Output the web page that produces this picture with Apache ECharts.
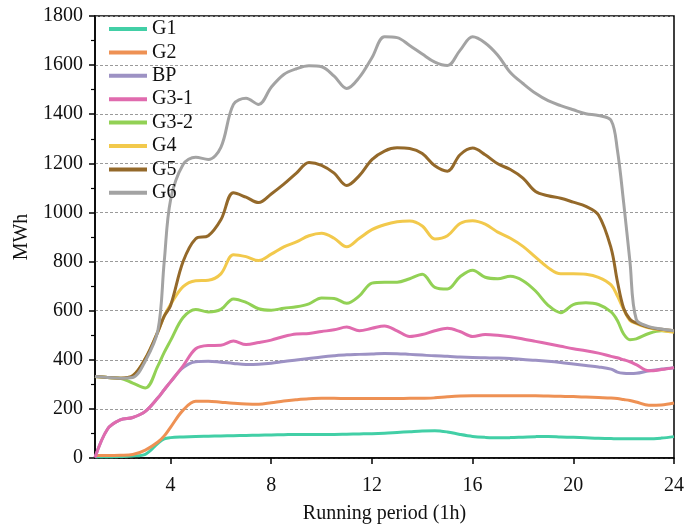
<!DOCTYPE html>
<html>
<head>
<meta charset="utf-8">
<script src="https://cdn.jsdelivr.net/npm/echarts@6/dist/echarts.min.js"></script>
<style>
  html, body { margin: 0; padding: 0; background: #fff; }
  #chart { width: 687px; height: 529px; }
</style>
</head>
<body>
<div id="chart"></div>
<script>
// Hourly sample points over the running period
const hours = [1, 1.5, 2, 2.5, 3, 3.5, 3.75, 4, 4.5, 5, 5.5, 6, 6.5, 7, 7.5, 8, 8.5, 9, 9.5, 10,
  10.5, 11, 11.5, 12, 12.5, 13, 13.5, 14, 14.5, 15, 15.5, 16, 16.5, 17, 17.5, 18, 18.5, 19, 19.5, 20,
  20.5, 21, 21.5, 21.75, 22, 22.25, 22.5, 23, 23.5, 24];

const seriesNames = ['G1', 'G2', 'BP', 'G3-1', 'G3-2', 'G4', 'G5', 'G6'];

const g1 = [5, 5, 6, 8, 15, 60, 78, 83, 86, 88, 89, 90, 91, 92, 93, 94, 95, 96, 96, 96,
  96, 97, 98, 99, 101, 104, 107, 110, 111, 106, 96, 88, 84, 82, 83, 85, 87, 88, 86, 84,
  82, 80, 79, 78, 78, 78, 78, 78, 81, 87];

const g2 = [10, 10, 11, 14, 32, 65, 90, 125, 195, 231, 231, 227, 223, 220, 219, 225, 232, 237, 241, 243,
  243, 242, 242, 242, 242, 242, 243, 243, 245, 249, 252, 253, 253, 253, 253, 253, 253, 252, 251, 250,
  248, 246, 244, 242, 238, 234, 228, 215, 216, 224];

const bp = [2, 118, 155, 165, 190, 245, 278, 310, 368, 392, 394, 390, 385, 381, 382, 386, 393, 399, 405, 411,
  416, 420, 422, 424, 426, 425, 422, 419, 416, 414, 411, 409, 408, 407, 405, 401, 398, 394, 389, 383,
  377, 371, 362, 350, 345, 344, 345, 355, 362, 368];

const g31 = [2, 118, 155, 165, 190, 245, 278, 310, 375, 445, 458, 459, 476, 462, 470, 480, 495, 505, 507, 515,
  522, 533, 518, 528, 538, 518, 495, 503, 518, 528, 515, 495, 503, 500, 494, 485, 475, 465, 455, 445,
  437, 427, 414, 408, 400, 392, 380, 355, 360, 368];

const g32 = [332, 328, 325, 305, 285, 375, 430, 478, 572, 605, 595, 605, 648, 634, 608, 602, 610, 616, 628, 652,
  650, 630, 660, 712, 716, 716, 730, 748, 695, 688, 738, 765, 736, 730, 740, 722, 680, 622, 592, 625,
  632, 625, 595, 560, 505, 482, 485, 507, 518, 515];

const g4 = [332, 328, 325, 335, 405, 515, 578, 625, 698, 722, 724, 750, 828, 820, 804, 830, 860, 880, 905, 915,
  895, 860, 895, 930, 950, 962, 965, 945, 892, 905, 955, 966, 952, 920, 895, 862, 818, 775, 750, 750,
  748, 736, 705, 660, 605, 560, 548, 530, 520, 512];

const g5 = [332, 328, 325, 335, 405, 515, 578, 620, 800, 893, 905, 970, 1080, 1062, 1040, 1075, 1115, 1160, 1203, 1192,
  1160, 1110, 1150, 1215, 1250, 1263, 1260, 1240, 1190, 1168, 1235, 1262, 1235, 1198, 1175, 1140, 1085, 1068, 1058, 1042,
  1025, 990, 855, 720, 610, 565, 550, 532, 524, 518];

const g6 = [332, 328, 325, 328, 395, 520, 800, 1050, 1195, 1225, 1216, 1265, 1440, 1465, 1440, 1510, 1562, 1585, 1597, 1593,
  1555, 1505, 1550, 1630, 1715, 1712, 1680, 1645, 1612, 1598, 1660, 1715, 1690, 1640, 1570, 1525, 1485, 1455, 1435, 1418,
  1402, 1395, 1375, 1255, 1040, 800, 565, 535, 525, 518];

const xTicks = [4, 8, 12, 16, 20, 24];

const colors = ['#42cfa6', '#ee9154', '#9d92c4', '#e06bae', '#92d155', '#f2c94c', '#94692a', '#a3a3a3'];
const values = [g1, g2, bp, g31, g32, g4, g5, g6];

const font = '"Liberation Serif", "Times New Roman", serif';

const chart = echarts.init(document.getElementById('chart'), null, { renderer: 'canvas' });

chart.setOption({
  animation: false,
  backgroundColor: '#fff',
  color: colors,
  grid: {
    left: 95, right: 11, top: 16, bottom: 69,
    show: true, borderColor: '#000', borderWidth: 1.5, backgroundColor: 'transparent'
  },
  legend: {
    orient: 'vertical',
    left: 104, top: 14,
    itemWidth: 38, itemHeight: 14, itemGap: 3.4,
    data: seriesNames.map((n, i) => ({ name: n, icon: 'path://M0,0 L38,0 L38,4 L0,4 Z', itemStyle: { color: colors[i] } })),
    textStyle: { fontFamily: font, fontSize: 20, color: '#111', lineHeight: 20, padding: [0, 0, 0, 0] }
  },
  xAxis: {
    type: 'value',
    min: 1, max: 24,
    name: 'Running period (1h)',
    nameLocation: 'middle',
    nameGap: 46,
    nameTextStyle: { fontFamily: font, fontSize: 20, color: '#111' },
    axisLine: { show: true, lineStyle: { color: '#000', width: 1.5 } },
    axisTick: { show: true, length: 6, customValues: xTicks, lineStyle: { color: '#000', width: 1.5 } },
    axisLabel: { customValues: xTicks, fontFamily: font, fontSize: 20, color: '#111', margin: 18 },
    splitLine: { show: false }
  },
  yAxis: {
    type: 'value',
    min: 0, max: 1800, interval: 200,
    name: 'MWh',
    nameLocation: 'middle',
    nameGap: 63,
    nameTextStyle: { fontFamily: font, fontSize: 20, color: '#111' },
    axisLine: { show: true, lineStyle: { color: '#000', width: 1.5 } },
    axisTick: { show: true, length: 6, lineStyle: { color: '#000', width: 1.5 } },
    minorTick: { show: true, splitNumber: 2, length: 4, lineStyle: { color: '#000', width: 1.2 } },
    axisLabel: { fontFamily: font, fontSize: 20, color: '#111', margin: 12, formatter: (v) => String(v) },
    splitLine: { show: true, lineStyle: { color: '#9a9a9a', width: 1, type: [3, 2] } }
  },
  series: seriesNames.map((name, i) => ({
    name: name,
    type: 'line',
    data: hours.map((h, k) => [h, values[i][k]]),
    showSymbol: false,
    symbol: 'none',
    smooth: 0.35,
    lineStyle: { width: 3, color: colors[i] },
    itemStyle: { color: colors[i] }
  }))
});
</script>
</body>
</html>
